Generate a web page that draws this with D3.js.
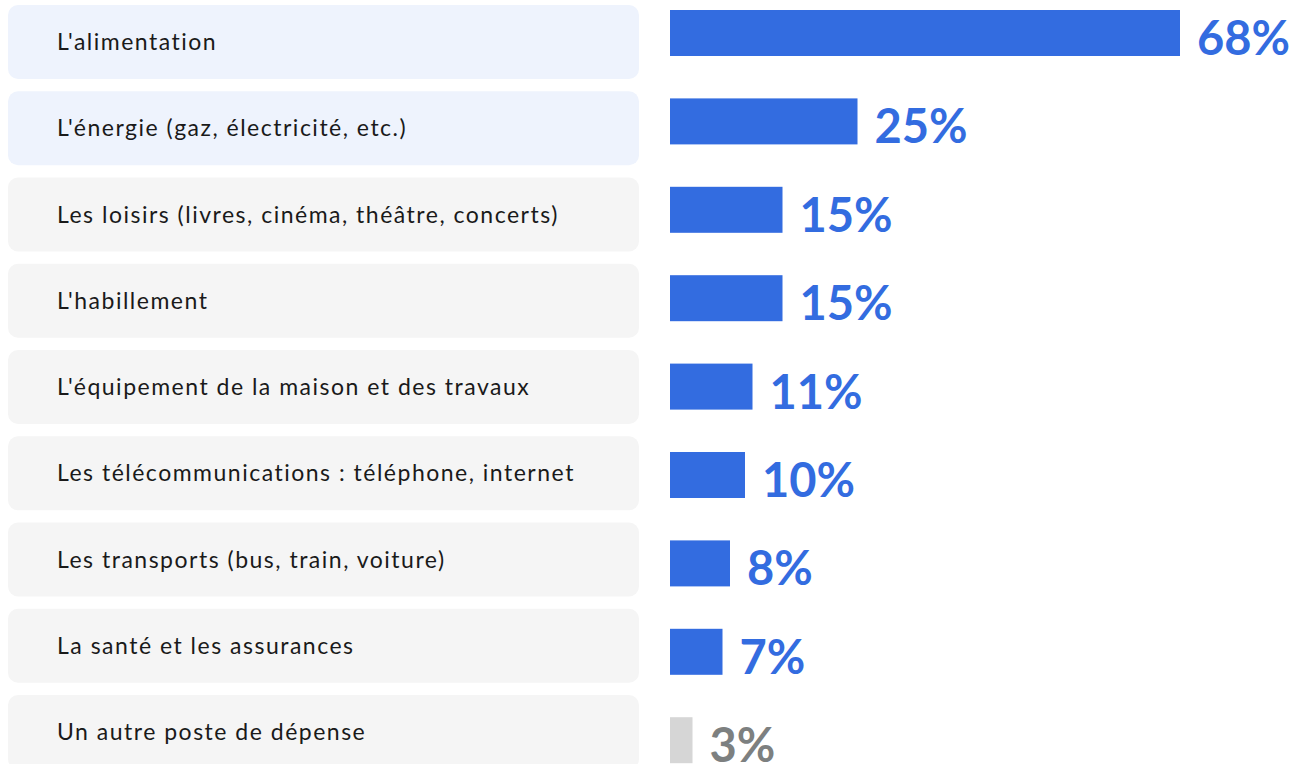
<!DOCTYPE html>
<html>
<head>
<meta charset="utf-8">
<script src="https://cdn.jsdelivr.net/npm/d3@7"></script>
<style>
  body { margin: 0; background: #fff; }
  svg { display: block; }
</style>
</head>
<body>
<div id="chart"></div>
<script>
// Data
var categories = [
  "L'alimentation",
  "L'énergie (gaz, électricité, etc.)",
  "Les loisirs (livres, cinéma, théâtre, concerts)",
  "L'habillement",
  "L'équipement de la maison et des travaux",
  "Les télécommunications : téléphone, internet",
  "Les transports (bus, train, voiture)",
  "La santé et les assurances",
  "Un autre poste de dépense"
];
var values = [68, 25, 15, 15, 11, 10, 8, 7, 3];
var highlighted = [true, true, false, false, false, false, false, false, false]; // light blue boxes
var isOther = [false, false, false, false, false, false, false, false, true];

var W = 1294, H = 764;
var n = categories.length;

var svg = d3.select("#chart").append("svg")
  .attr("width", W)
  .attr("height", H);

// label boxes on the left (step 86.25, gap 12.25)
var boxStep = 86.25, boxGap = 12.25;
var yBox = d3.scaleBand()
  .domain(categories)
  .range([5, 5 + boxStep * n - boxGap])
  .paddingInner(boxGap / boxStep)
  .paddingOuter(0);

// bars on the right (step 88.4, gap 42.4)
var barStep = 88.4, barGap = 42.4;
var yBar = d3.scaleBand()
  .domain(categories)
  .range([10, 10 + barStep * n - barGap])
  .paddingInner(barGap / barStep)
  .paddingOuter(0);

var x = d3.scaleLinear()
  .domain([0, 68])
  .range([670, 1180]);

var rows = categories.map(function(c, i){
  return {cat: c, value: values[i], hl: highlighted[i], other: isOther[i]};
});

// boxes
svg.selectAll("rect.box")
  .data(rows)
  .enter().append("rect")
  .attr("class", "box")
  .attr("x", 8)
  .attr("y", function(d){ return yBox(d.cat); })
  .attr("width", 631)
  .attr("height", yBox.bandwidth())
  .attr("rx", 10)
  .attr("fill", function(d){ return d.hl ? "#eef3fd" : "#f5f5f5"; });

svg.selectAll("text.cat")
  .data(rows)
  .enter().append("text")
  .attr("class", "cat")
  .attr("x", 57)
  .attr("y", function(d){ return yBox(d.cat) + yBox.bandwidth() / 2; })
  .attr("dy", "0.35em")
  .attr("font-family", "Lato, sans-serif")
  .attr("font-size", "23px")
  .attr("letter-spacing", "1.5px")
  .attr("fill", "#1a1a1a")
  .text(function(d){ return d.cat; });

// bars
svg.selectAll("rect.bar")
  .data(rows)
  .enter().append("rect")
  .attr("class", "bar")
  .attr("x", x(0))
  .attr("y", function(d){ return yBar(d.cat); })
  .attr("width", function(d){ return x(d.value) - x(0); })
  .attr("height", yBar.bandwidth())
  .attr("fill", function(d){ return d.other ? "#d6d6d6" : "#336ce0"; });

svg.selectAll("text.val")
  .data(rows)
  .enter().append("text")
  .attr("class", "val")
  .attr("x", function(d){ return x(d.value) + 17; })
  .attr("y", function(d){ return yBar(d.cat) + yBar.bandwidth() - 1; })
  .attr("font-family", "Lato, sans-serif")
  .attr("font-weight", "bold")
  .attr("font-size", "47px")
  .attr("fill", function(d){ return d.other ? "#7d8080" : "#336ce0"; })
  .text(function(d){ return d.value + "%"; });
</script>
</body>
</html>
